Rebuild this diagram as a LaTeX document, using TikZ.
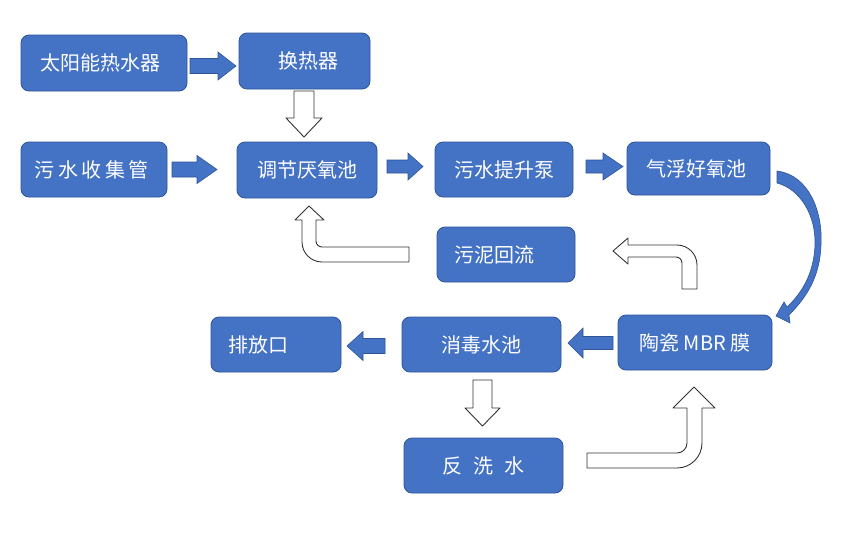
\documentclass[tikz,border=0pt]{standalone}
\usepackage{fontspec}
\setmainfont{Noto Sans CJK SC}
\usetikzlibrary{calc}
\definecolor{boxblue}{HTML}{4472C4}
\definecolor{boxedge}{HTML}{2F5597}
\definecolor{hollowedge}{HTML}{333333}
\tikzset{
  box/.style={draw=boxedge, fill=boxblue, line width=0.8pt, rounded corners=8pt,
    text=white, font=\fontsize{20}{24}\selectfont, inner sep=0pt},
  barrow/.style={draw=boxedge, fill=boxblue, line width=0.6pt, line join=miter},
  harrow/.style={draw=hollowedge, fill=white, line width=0.9pt, line join=round},
}
\newcommand\blkarrow[6]{% tail x, head-base x, tip x, centre y, shaft half, head half
  \path[barrow] (#1,#4-#5) -- (#2,#4-#5) -- (#2,#4-#6) -- (#3,#4) -- (#2,#4+#6)
    -- (#2,#4+#5) -- (#1,#4+#5) -- cycle;}
\begin{document}
\begin{tikzpicture}[x=1pt, y=-1pt]
\useasboundingbox[fill=white] (0,0) rectangle (846,555);

% boxes
\node[box, minimum width=166pt, minimum height=56pt] (tyn) at (104,63) {太阳能热水器\kern8pt};
\node[box, minimum width=131pt, minimum height=56pt] (hrq) at (304.5,61) {\kern7pt 换热器};
\node[box, minimum width=146pt, minimum height=55pt] (wsg) at (94,169.5) {污\kern3.5pt 水\kern3.5pt 收\kern3.5pt 集\kern3.5pt 管\kern5pt};
\node[box, minimum width=140pt, minimum height=56pt] (tj) at (307,170) {调节厌氧池};
\node[box, minimum width=138pt, minimum height=55pt] (ts) at (504,169.5) {污水提升泵};
\node[box, minimum width=143pt, minimum height=53pt] (qf) at (698.5,168.5) {气浮好氧池\kern5pt};
\node[box, minimum width=138pt, minimum height=55pt] (wn) at (506,254.5) {污泥回流\kern23pt};
\node[box, minimum width=154pt, minimum height=55pt] (mbr) at (695,342.5) {陶瓷 MBR 膜};
\node[box, minimum width=159pt, minimum height=55pt] (xd) at (481.5,344.5) {消毒水池};
\node[box, minimum width=130pt, minimum height=55pt] (pf) at (276,344.5) {排放口\kern36pt};
\node[box, minimum width=159pt, minimum height=55pt] (fx) at (483.5,465.5) {反\kern11pt 洗\kern11pt 水};

% blue block arrows
\blkarrow{190}{218}{236}{66}{7.5}{14}
\blkarrow{172}{197}{217}{169.5}{7.5}{14}
\blkarrow{387}{408}{423}{166.5}{6.5}{13.5}
\blkarrow{586}{603}{623}{166.5}{6.5}{13.5}
\blkarrow{613}{583}{568}{343}{6.5}{15}
\blkarrow{385}{363}{347}{346}{7.5}{14.5}

% hollow straight arrows
\path[harrow] (294,91) -- (314,91) -- (314,118) -- (322,118) -- (304,137) -- (286,118) -- (294,118) -- cycle;
\path[harrow] (473,380) -- (492,380) -- (492,408) -- (500,408) -- (482.5,426) -- (465,408) -- (473,408) -- cycle;

% hollow bent arrows
\path[harrow] (409,262) -- (322,262) .. controls (311,262) and (302,253) .. (302,242)
  -- (302,220) -- (295,220) -- (309,206) -- (324,220) -- (316,220) -- (316,241)
  .. controls (316,244.3) and (318.7,247) .. (322,247) -- (409,247) -- cycle;
\path[harrow] (682,289) -- (682,263) .. controls (682,259.7) and (679.3,257) .. (676,257)
  -- (628,257) -- (628,264) -- (613,251) -- (628,238) -- (628,245) -- (677,245)
  .. controls (688,245) and (697,254) .. (697,265) -- (697,289) -- cycle;
\path[harrow] (587,453) -- (677,453) .. controls (682.5,453) and (687,448.5) .. (687,443)
  -- (687,408) -- (673,408) -- (694,387) -- (715,408) -- (702,408) -- (702,443)
  .. controls (702,456.8) and (690.8,468) .. (677,468) -- (587,468) -- cycle;

% curved arrow from qf to mbr
\path[barrow] (777,171) .. controls (809,175) and (823,212) .. (821,245)
  .. controls (820,275) and (808,296) .. (789,315)
  -- (790,323) -- (776,316) -- (784,302) -- (787,307)
  .. controls (803,292) and (814,272) .. (815,245)
  .. controls (816,215) and (800,189) .. (777,183) -- cycle;
\end{tikzpicture}
\end{document}
